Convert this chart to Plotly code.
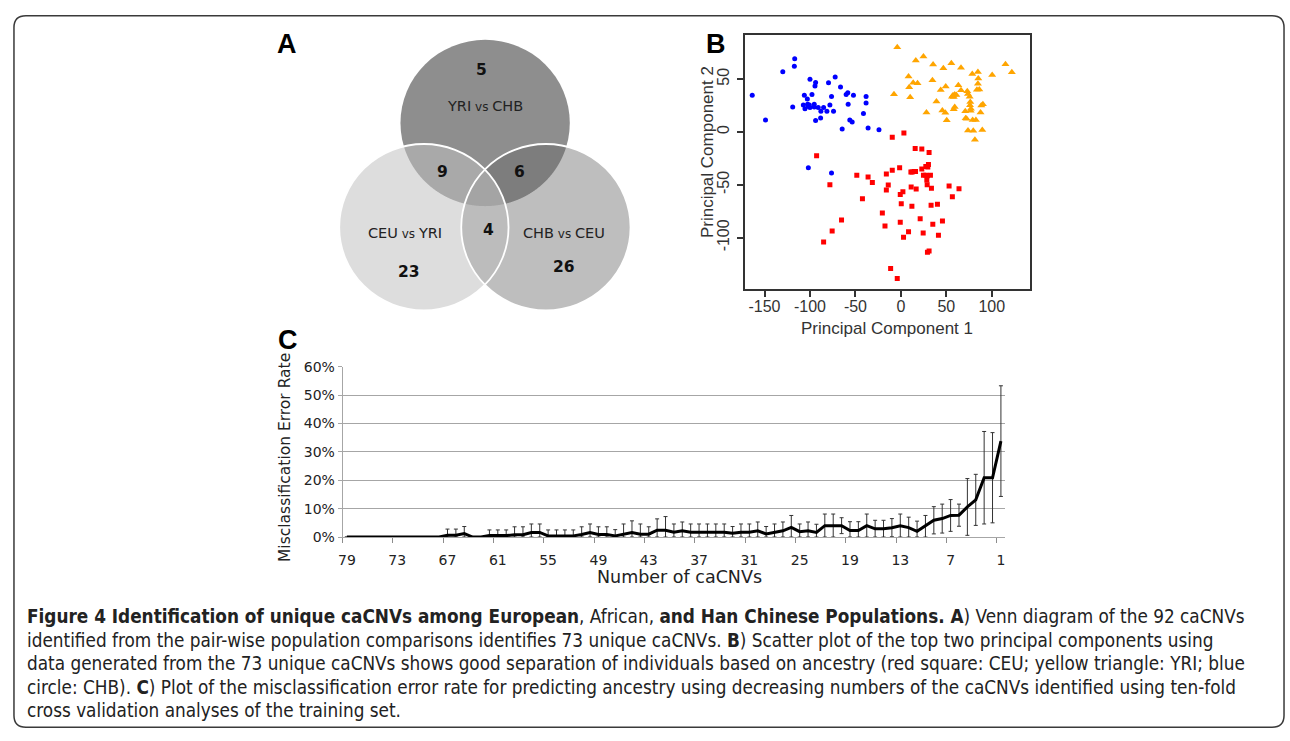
import numpy as np
import plotly.graph_objects as go

W, H = 1290, 741

# ---------------- Panel A: Venn diagram data ----------------
venn_set_labels = ["YRI<span style='font-size:12px'> vs </span>CHB",
                   "CEU<span style='font-size:12px'> vs </span>YRI",
                   "CHB<span style='font-size:12px'> vs </span>CEU"]
venn_unique_counts = [5, 23, 26]          # only in set 0, 1, 2
venn_pair_counts = [9, 6, 4]              # sets (0,1), (0,2), (1,2)

# ---------------- Panel B: PCA scatter data ----------------
chb_pc1 = [-163.5, -148.9, -129.9, -116.8, -117.2, -119.0, -106.2, -107.3, -105.5, -102.6,
           -101.8, -102.9, -100.7, -100.0, -97.8, -95.3, -95.3, -100.0, -93.8, -94.5,
           -90.9, -88.0, -85.0, -81.4, -78.1, -76.3, -79.6, -74.1, -72.3, -66.4,
           -60.2, -58.4, -52.2, -58.0, -56.2, -53.6, -64.6, -38.3, -38.3, -41.2,
           -36.1, -24.1, -93.8, -88.3, -101.8, -76.3]
chb_pc2 = [34.8, 11.4, 57.0, 69.3, 62.2, 23.7, 34.8, 25.6, 21.9, 26.2,
           24.0, 31.1, 25.6, 23.1, 35.4, 26.2, 23.7, 49.9, 46.8, 43.4,
           23.1, 19.7, 23.1, 19.7, 25.6, 33.6, 46.5, 19.7, 52.1, 42.5,
           35.4, 37.0, 34.8, 26.2, 11.4, 9.5, 2.8, 33.6, 27.4, 17.6,
           3.7, 2.1, 10.8, 13.2, -33.9, -38.8]

ceu_pc1 = [-92.7, -78.1, -42.3, -48.5, -36.1, -31.4, -65.3, -75.6, -85.0, -20.4,
           -17.5, -16.0, -16.0, 3.3, -9.5, 15.7, 23.0, 31.0, 30.3, 29.6,
           27.4, 23.0, 14.6, 11.0, 12.4, 16.1, -1.4, -9.5, 24.8, 27.4,
           29.2, 32.5, 28.5, 28.9, 33.6, -13.9, 2.2, -0.7, 11.3, 16.8,
           53.0, 63.9, 56.6, 0.4, 12.1, 33.2, 40.2, -0.7, 21.2, 35.1,
           45.7, 8.4, 2.9, 24.5, 41.3, 29.2, 31.0, -11.3, -4.0]
ceu_pc2 = [-22.5, -49.9, -63.2, -41.0, -42.5, -47.8, -83.2, -93.7, -104.1, -76.7,
           -89.0, -54.8, -39.7, -0.9, -4.9, -15.7, -16.0, -19.4, -30.8, -33.0,
           -32.7, -35.1, -37.3, -37.9, -37.9, -37.3, -33.9, -36.1, -41.0, -41.0,
           -41.3, -41.0, -45.3, -49.9, -53.3, -50.2, -56.4, -59.2, -52.1, -53.9,
           -51.1, -53.6, -61.3, -67.8, -70.2, -69.3, -68.4, -85.3, -82.0, -87.2,
           -84.1, -94.3, -99.5, -95.5, -97.7, -113.7, -112.5, -129.1, -138.6]

yri_pc1 = [-4.0, 16.4, 24.8, 35.4, 46.7, 55.5, 66.1, 8.4, 13.5, 18.3,
           34.7, 9.1, -7.6, 10.2, 43.8, 49.3, 63.2, 66.1, 57.3, 59.2,
           61.0, 58.1, 56.2, 39.1, 59.2, 58.1, 45.6, 48.9, 28.1, 50.4,
           70.8, 76.7, 71.2, 72.3, 78.9, 82.5, 73.0, 73.8, 75.6, 78.5,
           84.7, 85.1, 84.7, 86.2, 83.6, 76.3, 76.0, 77.0, 88.4, 90.2,
           87.6, 100.4, 115.0, 122.0, 73.8, 79.6, 89.5, 81.4]
yri_pc2 = [80.1, 67.5, 71.5, 63.8, 60.4, 65.0, 60.7, 52.4, 46.5, 46.2,
           49.0, 42.2, 35.7, 32.9, 39.7, 43.1, 44.1, 39.4, 34.8, 35.4,
           35.1, 33.0, 33.3, 28.9, 23.7, 21.6, 20.3, 18.2, 18.5, 11.1,
           19.7, 20.0, 12.9, 12.6, 11.4, 11.4, 38.5, 36.0, 33.3, 54.8,
           56.7, 50.5, 45.6, 40.3, 40.0, 28.3, 25.3, 21.9, 25.0, 26.2,
           18.5, 53.9, 64.1, 56.4, 1.5, 1.2, 1.8, -7.4]

b_tickvals_x = [-150, -100, -50, 0, 50, 100]
b_ticktext_x = ["-150", "-100", "-50", "0", "50", "100"]
b_tickvals_y = [-100, -50, 0, 50]
b_ticktext_y = ["-100", "-50", "0", "50"]

# ---------------- Panel C: misclassification error ----------------
n_cnvs = [79, 78, 77, 76, 75, 74, 73, 72, 71, 70, 69, 68, 67, 66, 65, 64, 63, 62, 61, 60,
          59, 58, 57, 56, 55, 54, 53, 52, 51, 50, 49, 48, 47, 46, 45, 44, 43, 42, 41, 40,
          39, 38, 37, 36, 35, 34, 33, 32, 31, 30, 29, 28, 27, 26, 25, 24, 23, 22, 21, 20,
          19, 18, 17, 16, 15, 14, 13, 12, 11, 10, 9, 8, 7, 6, 5, 4, 3, 2, 1]
error_rate = [0, 0, 0, 0, 0, 0, 0, 0, 0, 0, 0, 0,
              0.6, 0.6, 1.2, 0, 0,
              0.5, 0.5, 0.5, 0.8, 0.8, 1.6, 1.6,
              0.4, 0.4, 0.4, 0.4, 0.9, 1.6, 0.9, 0.9, 0.4, 1.0, 1.6, 1.0, 1.0, 2.4,
              2.4, 1.7, 2.2, 1.7, 1.7, 1.7, 1.7, 1.7, 1.3, 1.7, 1.7, 2.2, 1.1, 1.6, 2.2, 3.4, 1.9, 2.2, 1.6,
              4.0, 4.0, 4.0, 2.3, 2.3, 4.0, 2.9, 2.9, 3.3, 4.0, 3.3, 2.0, 3.8, 5.9, 6.5, 7.6, 7.7,
              10.6, 13.1, 20.9, 20.9, 33.8]
error_sd = [0, 0, 0, 0, 0, 0, 0, 0, 0, 0, 0, 0,
            2.2, 2.2, 2.5, 0, 0,
            2.0, 2.0, 2.0, 2.8, 2.8, 3.0, 3.0,
            2.1, 2.1, 2.1, 2.1, 2.7, 3.0, 2.7, 2.7, 2.2, 3.6, 4.1, 3.6, 2.6, 4.0,
            4.8, 2.9, 3.1, 2.9, 2.9, 2.9, 2.9, 2.9, 2.4, 2.9, 2.9, 3.1, 2.6, 3.0, 3.1, 4.2, 2.7, 3.1, 2.9,
            4.1, 4.1, 2.8, 3.1, 3.1, 4.1, 3.0, 3.0, 3.2, 4.1, 3.7, 3.6, 3.8, 4.8, 5.1, 5.6, 3.9,
            10.0, 9.0, 16.3, 15.9, 19.5]
c_tick_vals = [79, 73, 67, 61, 55, 49, 43, 37, 31, 25, 19, 13, 7, 1]
c_tick_labels = ["79", "73", "67", "61", "55", "49", "43", "37", "31", "25", "19", "13", "7", "1"]
c_y_ticks = [0, 10, 20, 30, 40, 50, 60]
c_y_labels = ["0%", "10%", "20%", "30%", "40%", "50%", "60%"]

caption_lines = [
    "<b>Figure 4 Identification of unique caCNVs among European</b>, African, <b>and Han Chinese Populations. A</b>) Venn diagram of the 92 caCNVs",
    "identified from the pair-wise population comparisons identifies 73 unique caCNVs. <b>B</b>) Scatter plot of the top two principal components using",
    "data generated from the 73 unique caCNVs shows good separation of individuals based on ancestry (red square: CEU; yellow triangle: YRI; blue",
    "circle: CHB). <b>C</b>) Plot of the misclassification error rate for predicting ancestry using decreasing numbers of the caCNVs identified using ten-fold",
    "cross validation analyses of the training set.",
]


def fx(px):
    return px / W


def fy(py):
    return 1 - py / H


# ---------------- layout geometry (pixels) ----------------
VENN_C = [(482.0, 117.5), (420.5, 224.0), (543.0, 224.0)]
VENN_R = 85.0
venn_base_fill = ["#8e8e8e", "#dddddd", "#bebebe"]
venn_pair_fill = {(0, 1): "#a9a9a9", (0, 2): "#7d7d7d", (1, 2): "#bcbcbc"}
venn_triple_fill = "#a4a4a4"


def region_path(idx):
    pts = []
    t = np.linspace(0, 2 * np.pi, 1441)
    for i in idx:
        cx, cy = VENN_C[i]
        xs = cx + VENN_R * np.cos(t)
        ys = cy + VENN_R * np.sin(t)
        ok = np.ones_like(xs, dtype=bool)
        for j in idx:
            if j == i:
                continue
            ox, oy = VENN_C[j]
            ok &= (xs - ox) ** 2 + (ys - oy) ** 2 <= VENN_R ** 2 + 1e-6
        pts.extend(zip(xs[ok], ys[ok]))
    pts = np.array(pts)
    m = pts.mean(axis=0)
    order = np.argsort(np.arctan2(pts[:, 1] - m[1], pts[:, 0] - m[0]))
    pts = pts[order]
    return "M " + " L ".join(f"{fx(x):.5f},{fy(y):.5f}" for x, y in pts) + " Z"


shapes = []
# frame
fl, ft, fr, fb, rr = 9, 8, 1284, 735, 12
frame = (f"M {fx(fl+rr)},{fy(ft)} L {fx(fr-rr)},{fy(ft)} Q {fx(fr)},{fy(ft)} {fx(fr)},{fy(ft+rr)} "
         f"L {fx(fr)},{fy(fb-rr)} Q {fx(fr)},{fy(fb)} {fx(fr-rr)},{fy(fb)} "
         f"L {fx(fl+rr)},{fy(fb)} Q {fx(fl)},{fy(fb)} {fx(fl)},{fy(fb-rr)} "
         f"L {fx(fl)},{fy(ft+rr)} Q {fx(fl)},{fy(ft)} {fx(fl+rr)},{fy(ft)} Z")
shapes.append(dict(type="path", xref="paper", yref="paper", path=frame,
                   line=dict(color="#3a3a3a", width=1.5), fillcolor="rgba(0,0,0,0)"))

for (cx, cy), col in zip(VENN_C, venn_base_fill):
    shapes.append(dict(type="circle", xref="paper", yref="paper",
                       x0=fx(cx - VENN_R), x1=fx(cx + VENN_R), y0=fy(cy + VENN_R), y1=fy(cy - VENN_R),
                       fillcolor=col, line=dict(width=0), layer="below"))
for key, col in venn_pair_fill.items():
    shapes.append(dict(type="path", xref="paper", yref="paper", path=region_path(key),
                       fillcolor=col, line=dict(width=0), layer="below"))
shapes.append(dict(type="path", xref="paper", yref="paper", path=region_path((0, 1, 2)),
                   fillcolor=venn_triple_fill, line=dict(width=0), layer="below"))
for cx, cy in VENN_C[1:]:
    shapes.append(dict(type="circle", xref="paper", yref="paper",
                       x0=fx(cx - VENN_R), x1=fx(cx + VENN_R), y0=fy(cy + VENN_R), y1=fy(cy - VENN_R),
                       fillcolor="rgba(0,0,0,0)", line=dict(color="white", width=1.8), layer="below"))

annotations = []


def txt(text, px, py, size, family="DejaVu Sans", color="#1a1a1a", angle=0, xanchor="center", bold=False):
    if bold:
        text = f"<b>{text}</b>"
    annotations.append(dict(text=text, x=fx(px), y=fy(py), xref="paper", yref="paper",
                            showarrow=False, xanchor=xanchor, yanchor="middle", textangle=angle,
                            font=dict(family=family, size=size, color=color)))


# Panel letters
txt("A", 283, 37, 27, family="Liberation Sans", color="black", bold=True)
txt("B", 714, 37, 27, family="Liberation Sans", color="black", bold=True)
txt("C", 284, 339, 27, family="Liberation Sans", color="black", bold=True)

# Venn texts (positions are layout)
venn_label_pos = [(482, 100), (402, 230), (561, 230)]
venn_unique_pos = [(478, 63), (406, 270), (561, 265)]
venn_pair_pos = [(439, 168), (517, 168), (485, 227)]
for lab, (px, py) in zip(venn_set_labels, venn_label_pos):
    txt(lab, px, py, 14.5, color="#222")
for v, (px, py) in zip(venn_unique_counts, venn_unique_pos):
    txt(str(v), px, py, 15.5, color="#111", bold=True)
for v, (px, py) in zip(venn_pair_counts, venn_pair_pos):
    txt(str(v), px, py, 15.5, color="#111", bold=True)

# Axis titles
txt("Principal Component 1", 885, 328, 17, family="Liberation Sans", color="#333")
txt("Principal Component 2", 706, 147, 17, family="Liberation Sans", color="#333", angle=-90)
txt("Number of caCNVs", 677, 582, 17.5, color="#222")
txt("Misclassification Error Rate", 281, 459, 15.5, color="#222", angle=-90)

# Caption
cap_y = [622, 646, 670, 694, 718]
for line, py in zip(caption_lines, cap_y):
    txt(line, 20, py, 18.8, family="DejaVu Sans Condensed, Liberation Sans Narrow, sans-serif",
        color="#222", xanchor="left")

fig = go.Figure()
fig.add_trace(go.Scatter(x=chb_pc1, y=chb_pc2, mode="markers", name="CHB",
                         marker=dict(symbol="circle", size=5, color="#0000ff"), xaxis="x", yaxis="y"))
fig.add_trace(go.Scatter(x=ceu_pc1, y=ceu_pc2, mode="markers", name="CEU",
                         marker=dict(symbol="square", size=5, color="#ff0000"), xaxis="x", yaxis="y"))
fig.add_trace(go.Scatter(x=yri_pc1, y=yri_pc2, mode="markers", name="YRI",
                         marker=dict(symbol="triangle-up", size=7, color="#ffa500"), xaxis="x", yaxis="y"))

err_minus = np.minimum(np.array(error_sd), np.array(error_rate))
fig.add_trace(go.Scatter(x=n_cnvs, y=error_rate, mode="lines", name="error",
                         line=dict(color="black", width=3),
                         error_y=dict(type="data", array=error_sd, arrayminus=err_minus,
                                      color="#333333", thickness=1, width=2),
                         xaxis="x2", yaxis="y2"))

tick_font_b = dict(family="Liberation Sans", size=16, color="#333")
tick_font_c = dict(family="DejaVu Sans", size=14, color="#222")

fig.update_layout(
    width=W, height=H, autosize=False,
    margin=dict(l=0, r=0, t=0, b=0),
    paper_bgcolor="white", plot_bgcolor="white",
    showlegend=False,
    shapes=shapes, annotations=annotations,
    xaxis=dict(domain=[fx(743.3), fx(1029)], range=[-171, 142], tickmode="array",
               tickvals=b_tickvals_x, ticktext=b_ticktext_x, ticklabelstandoff=-4,
               ticks="outside", ticklen=6, tickwidth=2, tickcolor="#333",
               showline=True, linecolor="#333", linewidth=2, mirror=True,
               showgrid=False, zeroline=False, tickfont=tick_font_b, anchor="y"),
    yaxis=dict(domain=[fy(286.7), fy(27.3)], range=[-148, 92], tickmode="array",
               tickvals=b_tickvals_y, ticktext=b_ticktext_y, ticklabelstandoff=2,
               tickangle=-90, ticks="outside", ticklen=6, tickwidth=2, tickcolor="#333",
               showline=True, linecolor="#333", linewidth=2, mirror=True,
               showgrid=False, zeroline=False, tickfont=tick_font_b, anchor="x"),
    xaxis2=dict(domain=[fx(339), fx(1004)], range=[79.5, 0.5], tickmode="array",
                tickvals=c_tick_vals, ticktext=c_tick_labels,
                ticks="outside", ticklen=10, tickcolor="rgba(0,0,0,0)",
                minor=dict(tickmode="array", tickvals=[v + 0.5 for v in c_tick_vals],
                           ticks="outside", ticklen=5, tickwidth=1, tickcolor="#8c8c8c", showgrid=False),
                showline=True, linecolor="#a6a6a6", linewidth=1,
                showgrid=False, zeroline=False, tickfont=tick_font_c, anchor="y2"),
    yaxis2=dict(domain=[fy(540.7), fy(366.7)], range=[0, 60], tickmode="array",
                tickvals=c_y_ticks, ticktext=c_y_labels,
                ticks="outside", ticklen=4, tickcolor="#a6a6a6",
                showline=True, linecolor="#a6a6a6", linewidth=1,
                showgrid=True, gridcolor="#a6a6a6", gridwidth=1,
                zeroline=False, tickfont=tick_font_c, anchor="x2"),
)

fig.write_html("out.html")
